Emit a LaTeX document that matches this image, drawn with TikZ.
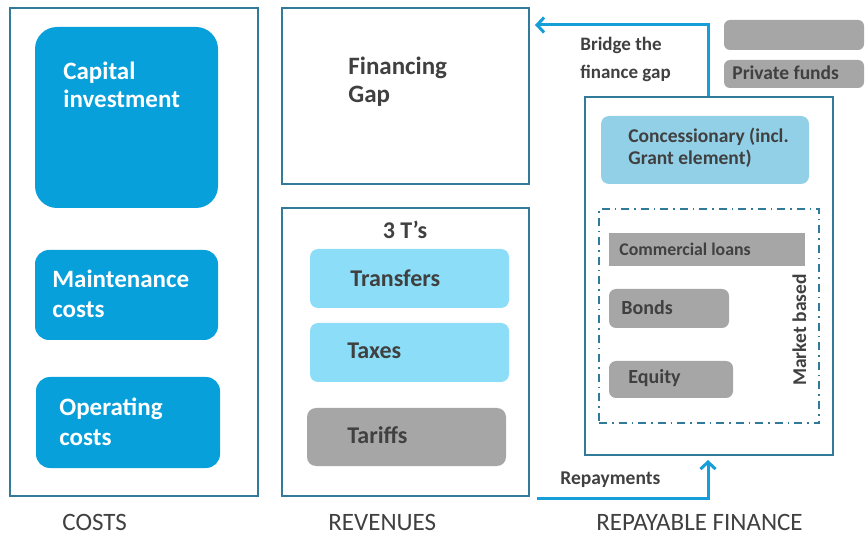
\documentclass[tikz,border=0pt]{standalone}
\usepackage{fontspec}
\setmainfont{Carlito}
\usetikzlibrary{arrows.meta}

\definecolor{frameblue}{RGB}{49,122,153}
\definecolor{flowblue}{RGB}{22,158,216}
\definecolor{costblue}{RGB}{8,160,218}
\definecolor{revcyan}{RGB}{140,222,248}
\definecolor{concblue}{RGB}{146,208,232}
\definecolor{fundgray}{RGB}{166,166,166}
\definecolor{txtgray}{RGB}{64,64,64}

\tikzset{every picture/.style={line width=0.75pt}}
\tikzset{
  frame/.style={draw=frameblue, line width=2pt, inner sep=0pt},
  costbox/.style={fill=costblue, inner sep=0pt},
  revbox/.style={fill=revcyan, rounded corners=8pt, inner sep=0pt},
  graybox/.style={fill=fundgray, rounded corners=7pt, inner sep=0pt},
  flow/.style={draw=flowblue, line width=3pt, -{Straight Barb[length=7pt,width=15pt,line width=3pt]}},
  bigtxt/.style={anchor=base west, align=left, inner sep=0pt, text=white, font=\fontsize{25}{30}\selectfont\bfseries},
  midtxt/.style={anchor=base west, align=left, inner sep=0pt, text=txtgray, font=\fontsize{24}{28}\selectfont\bfseries},
  smalltxt/.style={anchor=base west, align=left, inner sep=0pt, text=txtgray, font=\fontsize{19.5}{28}\selectfont\bfseries},
  headtxt/.style={anchor=base west, inner sep=0pt, text=txtgray, font=\fontsize{25}{28}\selectfont}
}

\begin{document}
\begin{tikzpicture}[x=1pt,y=1pt,yscale=-1,xscale=1]
\useasboundingbox (0,0) rectangle (868,537);

% Frames
\node[frame, minimum width=248, minimum height=488] (costs) at (134,252) {};
\node[frame, minimum width=247, minimum height=176] (gap) at (405.5,96) {};
\node[frame, minimum width=247, minimum height=288] (revenue) at (405.5,352) {};
\node[frame, minimum width=248, minimum height=358] (finance) at (709,276) {};
\node[draw=frameblue, line width=1.5pt, dash pattern=on 8pt off 5pt on 1.5pt off 5pt, minimum width=220, minimum height=214, inner sep=0pt] (market) at (709,316) {};

% Costs
\node[costbox, rounded corners=22pt, minimum width=183, minimum height=181] (capital) at (126.5,117.5) {};
\node[costbox, rounded corners=14pt, minimum width=183, minimum height=90] (maint) at (126.5,295) {};
\node[costbox, rounded corners=14pt, minimum width=184, minimum height=91] (operating) at (128,422.5) {};
\node[bigtxt, font=\fontsize{25}{28}\selectfont\bfseries] (capitaltxt) at (63,108) {Capital\\investment};
\node[bigtxt] (mainttxt) at (52,318) {Maintenance\\costs};
\node[bigtxt] (operatingtxt) at (59,446) {Operating\\costs};

% Financing gap
\node[midtxt, font=\fontsize{25}{28}\selectfont\bfseries] (gaptxt) at (348,103) {Financing\\Gap};

% Revenues
\node[midtxt, anchor=base] (threet) at (405,239) {3 T’s};
\node[revbox, minimum width=199, minimum height=59] (transfers) at (409.5,278.5) {};
\node[revbox, minimum width=199, minimum height=59] (taxes) at (409.5,352.5) {};
\node[graybox, rounded corners=9pt, minimum width=199, minimum height=58] (tariffs) at (406.5,437) {};
\node[midtxt] at (350,287) {Transfers};
\node[midtxt] at (347,359) {Taxes};
\node[midtxt] at (347,443) {Tariffs};

% Repayable finance
\node[fill=concblue, rounded corners=8pt, inner sep=0pt, minimum width=208, minimum height=68] (conc) at (705,150) {};
\node[smalltxt, font=\fontsize{19.5}{22}\selectfont\bfseries] at (628,165) {Concessionary (incl.\\Grant element)};
\node[fill=fundgray, inner sep=0pt, minimum width=196, minimum height=33] (loans) at (707,249.5) {};
\node[graybox, minimum width=120, minimum height=39] (bonds) at (669,308.5) {};
\node[graybox, minimum width=124, minimum height=37] (equity) at (671,379.5) {};
\node[smalltxt, font=\fontsize{17.8}{22}\selectfont\bfseries] at (619,256) {Commercial loans};
\node[smalltxt, font=\fontsize{20}{22}\selectfont\bfseries] at (621,315) {Bonds};
\node[smalltxt, font=\fontsize{20}{22}\selectfont\bfseries] at (628,384) {Equity};
\node[smalltxt, anchor=base, rotate=90] (markettxt) at (806,330) {Market based};

% Private funds
\node[graybox, rounded corners=6pt, minimum width=140, minimum height=30] (blank) at (794,35) {};
\node[graybox, rounded corners=6pt, minimum width=140, minimum height=28] (private) at (794,74) {};
\node[smalltxt] at (732,80) {Private funds};

% Flows
\coordinate (bend) at (708,25);
\draw[flow] (finance.north -| bend) |- ([xshift=5pt]gap.east |- bend);
\node[smalltxt, font=\fontsize{19}{28}\selectfont\bfseries] (bridgetxt) at (580,79) {Bridge the\\finance gap};
\draw[flow] ([xshift=7pt,yshift=1pt]revenue.south east) -| ([yshift=4pt]finance.south -| bend);
\node[smalltxt] (repaytxt) at (560,484) {Repayments};

% Column titles
\node[headtxt] at (62,530) {COSTS};
\node[headtxt] at (328,530) {REVENUES};
\node[headtxt] at (596,530) {REPAYABLE FINANCE};

\end{tikzpicture}
\end{document}
